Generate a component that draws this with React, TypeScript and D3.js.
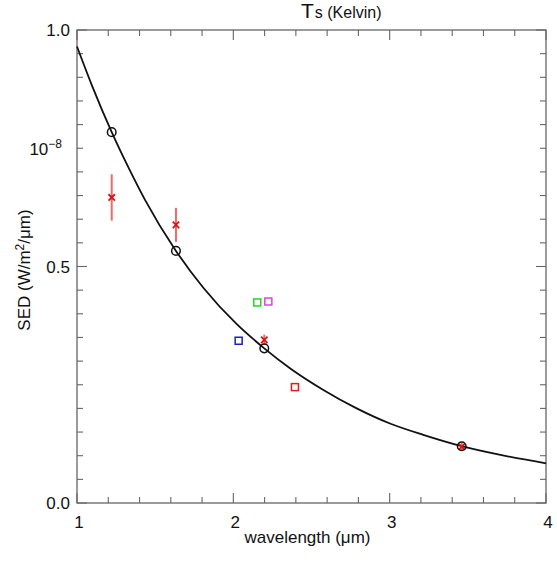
import React, { useEffect, useRef } from "react";
import * as d3 from "d3";

// model curve
const curveWave = [1.0, 1.094, 1.222, 1.328, 1.435, 1.633, 1.808, 2.022, 2.198, 2.362, 2.576, 2.789, 3.002, 3.215, 3.461, 4.0];
const curveSed = [0.965, 0.884, 0.784, 0.71, 0.641, 0.533, 0.455, 0.378, 0.327, 0.285, 0.239, 0.2, 0.168, 0.144, 0.12, 0.084];

// model points (open circles)
const modelWave = [1.222, 1.633, 2.198, 3.461];
const modelSed = [0.784, 0.533, 0.327, 0.12];

// observed photometry (red crosses + error bars)
const obsWave = [1.222, 1.633, 2.198, 3.461];
const obsSed = [0.646, 0.588, 0.345, 0.119];
const obsErr = [0.049, 0.036, 0.011, 0.008];

// other points (open squares)
const sqWave = [2.034, 2.153, 2.224, 2.394];
const sqSed = [0.343, 0.424, 0.426, 0.245];
const sqColor = ["#1c1cc8", "#22d822", "#e040e0", "#dc2020"];

const xTicks = [1, 2, 3, 4];
const yTickVals = [0, 0.5, 1.0];
const yTickNames = ["0.0", "0.5", "1.0"];

export default function App() {
  const ref = useRef<SVGSVGElement>(null);

  useEffect(() => {
    const svg = d3.select(ref.current);
    svg.selectAll("*").remove();

    const width = 557;
    const height = 563;
    const margin = { top: 30, right: 11, bottom: 60, left: 77 };
    const innerW = width - margin.left - margin.right;
    const innerH = height - margin.top - margin.bottom;
    const font = "'Liberation Sans', Arial, sans-serif";
    const axisColor = "#666";

    const x = d3.scaleLinear().domain([1, 4]).range([0, innerW]);
    const y = d3.scaleLinear().domain([0, 1]).range([innerH, 0]);

    const g = svg.append("g").attr("transform", `translate(${margin.left},${margin.top})`);

    // frame
    g.append("rect")
      .attr("width", innerW).attr("height", innerH)
      .attr("fill", "none").attr("stroke", axisColor).attr("stroke-width", 1.3);

    // x ticks (inward, bottom and top)
    const xMinor = d3.range(1, 4.001, 0.2);
    xMinor.forEach((v) => {
      const major = Math.abs(v - Math.round(v)) < 1e-6;
      const len = major ? 10 : 6;
      g.append("line").attr("x1", x(v)).attr("x2", x(v))
        .attr("y1", innerH).attr("y2", innerH - len)
        .attr("stroke", axisColor).attr("stroke-width", 1.1);
      g.append("line").attr("x1", x(v)).attr("x2", x(v))
        .attr("y1", 0).attr("y2", len)
        .attr("stroke", axisColor).attr("stroke-width", 1.1);
    });

    // y ticks (inward, left and right)
    const yMinor = d3.range(0, 1.0001, 0.05);
    yMinor.forEach((v) => {
      const major = Math.abs(v * 2 - Math.round(v * 2)) < 1e-6;
      const len = major ? 10 : 6;
      g.append("line").attr("x1", 0).attr("x2", len)
        .attr("y1", y(v)).attr("y2", y(v))
        .attr("stroke", axisColor).attr("stroke-width", 1.1);
      g.append("line").attr("x1", innerW).attr("x2", innerW - len)
        .attr("y1", y(v)).attr("y2", y(v))
        .attr("stroke", axisColor).attr("stroke-width", 1.1);
    });

    // tick labels
    g.selectAll(".xlab").data(xTicks).join("text")
      .attr("x", (d) => x(d) + 2).attr("y", innerH + 25)
      .attr("text-anchor", "middle").attr("font-family", font)
      .attr("font-size", 17).attr("fill", "#111")
      .text((d) => String(d));

    g.selectAll(".ylab").data(yTickVals).join("text")
      .attr("x", -7).attr("y", (d) => y(d) + 6)
      .attr("text-anchor", "end").attr("font-family", font)
      .attr("font-size", 17).attr("fill", "#111")
      .text((d, i) => yTickNames[i]);

    // the odd 10^-8 label
    const exp = g.append("text")
      .attr("x", -15).attr("y", y(0.75) + 7)
      .attr("text-anchor", "end").attr("font-family", font)
      .attr("font-size", 17).attr("fill", "#111");
    exp.append("tspan").text("10");
    exp.append("tspan").attr("dy", -7).attr("font-size", 12).text("\u22128");

    // curve
    const pts = curveWave.map((w, i) => [w, curveSed[i]] as [number, number]);
    const line = d3.line<[number, number]>()
      .x((d) => x(d[0])).y((d) => y(d[1]))
      .curve(d3.curveMonotoneX);
    g.append("path").datum(pts).attr("d", line)
      .attr("fill", "none").attr("stroke", "#111").attr("stroke-width", 1.8);

    // squares
    const s = 7;
    g.selectAll(".sq").data(sqWave).join("rect")
      .attr("x", (d) => x(d) - s / 2).attr("y", (d, i) => y(sqSed[i]) - s / 2)
      .attr("width", s).attr("height", s)
      .attr("fill", "none").attr("stroke", (d, i) => sqColor[i]).attr("stroke-width", 1.5);

    // error bars
    g.selectAll(".err").data(obsWave).join("line")
      .attr("x1", (d) => x(d)).attr("x2", (d) => x(d))
      .attr("y1", (d, i) => y(obsSed[i] - obsErr[i]))
      .attr("y2", (d, i) => y(obsSed[i] + obsErr[i]))
      .attr("stroke", "#f26868").attr("stroke-width", 2);

    // red crosses
    const c = 3.2;
    obsWave.forEach((w, i) => {
      const cx = x(w);
      const cy = y(obsSed[i]);
      g.append("path")
        .attr("d", `M${cx - c},${cy - c}L${cx + c},${cy + c}M${cx - c},${cy + c}L${cx + c},${cy - c}`)
        .attr("stroke", "#e01010").attr("stroke-width", 1.8).attr("fill", "none");
    });

    // model circles
    g.selectAll(".mod").data(modelWave).join("circle")
      .attr("cx", (d) => x(d)).attr("cy", (d, i) => y(modelSed[i]))
      .attr("r", 4.3)
      .attr("fill", "none").attr("stroke", "#111").attr("stroke-width", 1.5);

    // axis titles
    svg.append("text")
      .attr("x", margin.left + innerW / 2 - 4).attr("y", 543)
      .attr("text-anchor", "middle").attr("font-family", font)
      .attr("font-size", 17).attr("fill", "#111")
      .text("wavelength (\u03bcm)");

    const yl = svg.append("text")
      .attr("transform", `translate(30,270) rotate(-90)`)
      .attr("text-anchor", "middle").attr("font-family", font)
      .attr("font-size", 17).attr("fill", "#111");
    yl.append("tspan").text("SED (W/m");
    yl.append("tspan").attr("dy", -6).attr("font-size", 12).text("2");
    yl.append("tspan").attr("dy", 6).text("/\u03bcm)");

    // title
    const t = svg.append("text")
      .attr("x", 301).attr("y", 18)
      .attr("font-family", font).attr("fill", "#111");
    t.append("tspan").attr("font-size", 21).text("T");
    t.append("tspan").attr("font-size", 16).attr("dx", 1).text("s (Kelvin)");
  }, []);

  return (
    <svg
      ref={ref}
      width={557}
      height={563}
      style={{ position: "absolute", left: 0, top: 0, background: "#fff" }}
    />
  );
}
